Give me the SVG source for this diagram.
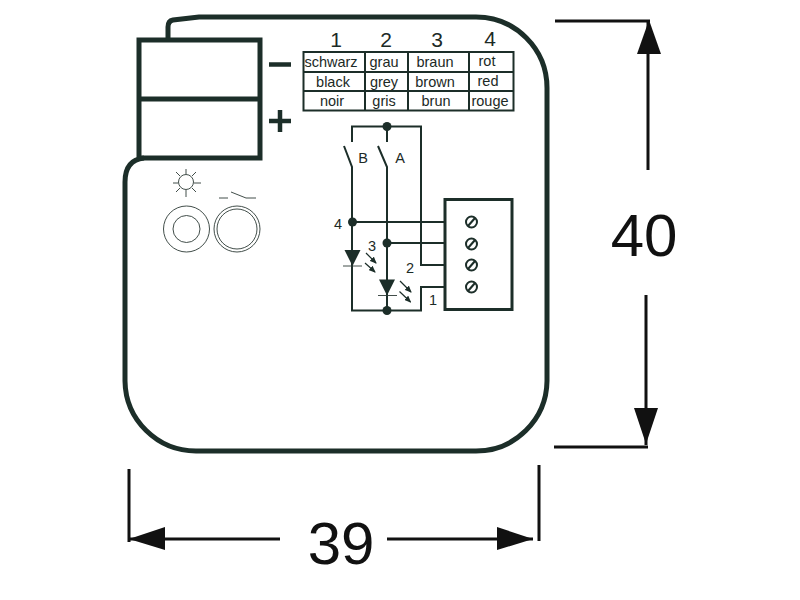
<svg xmlns="http://www.w3.org/2000/svg" width="800" height="600" viewBox="0 0 800 600">
<style>
text{font-family:"Liberation Sans",Arial,sans-serif;fill:#1c2a26}
.t{font-size:14.500px;text-anchor:middle}
.n{font-size:21px;text-anchor:middle}
.s{font-size:14.500px;text-anchor:middle}
.d{font-size:60px;text-anchor:middle;fill:#111}
.w{fill:none;stroke:#1c2e29;stroke-width:2}
.g{fill:none;stroke:#2c3a36;stroke-width:0.900}
.b{fill:none;stroke:#1c2e29;stroke-width:5}
.h{fill:none;stroke:#1c2e29;stroke-width:2}
.k{fill:none;stroke:#111;stroke-width:3}
.a{fill:#111}
.f{fill:#1c2e29}
.l{fill:none;stroke:#1c2e29;stroke-width:1.200;marker-end:url(#tip)}
</style>
<defs><marker id="tip" markerWidth="7" markerHeight="6" refX="6" refY="3" orient="auto" markerUnits="userSpaceOnUse"><path d="M0 0L7 3L0 6Z" fill="#1c2e29"/></marker></defs>
<g id="housing"><path class="b" d="M168 38V27Q168 21 173 20L199 17H476A71 71 0 0 1 547 88V381A71 71 0 0 1 476 451H196A71 71 0 0 1 125 381V182Q125 160 144 158"/></g>
<g id="terminal-block"><rect class="b" x="139" y="40" width="121" height="118"/><path class="b" d="M139 99H260"/>
<path d="M269 64.500H291" stroke="#1c2e29" stroke-width="4.500"/><path d="M269 121H291M280 110V132" stroke="#1c2e29" stroke-width="4.500" fill="none"/></g>
<g id="led-button"><circle class="g" cx="186.500" cy="229" r="23"/><circle class="g" cx="186.500" cy="229" r="13.500"/>
<circle class="g" cx="186" cy="182" r="7.500"/><path class="g" d="M186 169V174M186 190V197M173 183H178M194 183H201M176 172L180 176M192 188L196 192M176 192L180 188M192 176L196 172"/></g>
<g id="switch-button"><circle class="g" cx="237" cy="229" r="23"/><circle class="g" cx="237" cy="229" r="20"/><path class="g" d="M219 198H228M231 192L246 198H256"/></g>
<g id="colour-table"><rect class="h" x="303.500" y="52" width="210" height="58.500"/><path class="h" d="M303.500 72H513.500M303.500 91H513.500M365 52V110.500M408 52V110.500M469 52V110.500"/>
<text class="n" x="336" y="47">1</text><text class="n" x="386" y="47">2</text><text class="n" x="437" y="47">3</text><text class="n" x="490" y="46">4</text>
<text class="t" x="331" y="67">schwarz</text><text class="t" x="384" y="67">grau</text><text class="t" x="435" y="67">braun</text><text class="t" x="487" y="66">rot</text>
<text class="t" x="333" y="87">black</text><text class="t" x="384" y="87">grey</text><text class="t" x="435" y="87">brown</text><text class="t" x="488" y="86">red</text>
<text class="t" x="332" y="106">noir</text><text class="t" x="384" y="106">gris</text><text class="t" x="436" y="106">brun</text><text class="t" x="490" y="106">rouge</text></g>
<g id="connectors">
<path class="w" d="M352 142V126.500H421V265H444M387 126.500V142M344 146L352 167V310.500H421V287H444M378 146L387 167V310.500M352 222H444M387 243H444"/>
</g>
<g id="junctions"><circle class="f" cx="387" cy="126.500" r="4.500"/><circle class="f" cx="352.500" cy="222" r="4.500"/><circle class="f" cx="387" cy="243" r="4.500"/><circle class="f" cx="387" cy="310.500" r="4.500"/></g>
<g id="led-4"><path class="f" d="M344.500 250H360.500L352.500 266Z"/><path class="g" d="M343 266H362"/><path class="l" d="M366 253L376 263"/><path class="l" d="M365 263L375 272"/></g>
<g id="led-3"><path class="f" d="M379 279.500H395L387 295.500Z"/><path class="g" d="M378 295.500H397"/><path class="l" d="M400 281L411 292"/><path class="l" d="M399.500 291.500L410.500 302"/></g>
<g id="terminal-screws"><rect x="445" y="199.500" width="67" height="110" fill="#fff" stroke="#1c2e29" stroke-width="3"/>
<circle class="h" cx="471.500" cy="222" r="5.500"/><path class="h" d="M468 226L475 218"/><circle class="h" cx="471.500" cy="244" r="5.500"/><path class="h" d="M468 248L475 240"/><circle class="h" cx="471.500" cy="265" r="5.500"/><path class="h" d="M468 269L475 261"/><circle class="h" cx="471.500" cy="287" r="5.500"/><path class="h" d="M468 291L475 283"/></g>
<g id="wiring-labels"><text class="s" x="363" y="163">B</text><text class="s" x="400" y="163">A</text><text class="s" x="338" y="229">4</text><text class="s" x="372" y="251">3</text><text class="s" x="410" y="273">2</text><text class="s" x="433" y="305">1</text></g>
<g id="dimension-40"><path class="k" d="M555 21H650M554 447H648M648 21V170M646 295V445"/><path class="a" d="M649 20L661 54H637Z"/><path class="a" d="M646 444L634 408H658Z"/><text class="d" x="644" y="256">40</text></g>
<g id="dimension-39"><path class="k" d="M129 469V542M539 465V541M129 539H280M387 539H533"/><path class="a" d="M129 539L165 527V550Z"/><path class="a" d="M533 539L497 527V550Z"/><text class="d" x="341" y="564">39</text></g>
</svg>
